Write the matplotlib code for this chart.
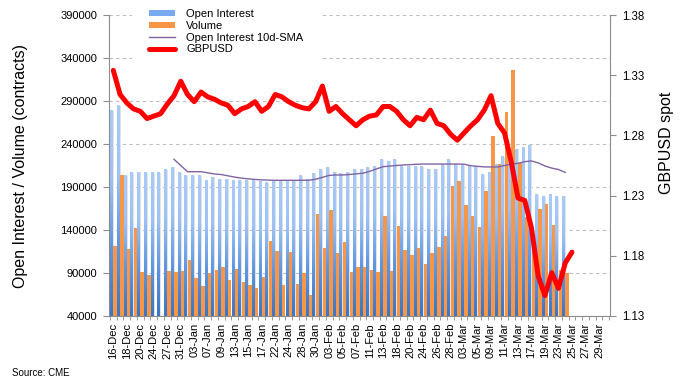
import numpy as np
import matplotlib
matplotlib.use("Agg")
import matplotlib.pyplot as plt
from matplotlib.colors import LinearSegmentedColormap
from matplotlib.patches import Patch
from matplotlib.lines import Line2D

plt.rcParams['font.family'] = ['Liberation Sans', 'DejaVu Sans']

# tick labels, one every second trading day
tick_labels = ['16-Dec', '18-Dec', '20-Dec', '24-Dec', '27-Dec', '31-Dec', '03-Jan', '07-Jan',
               '09-Jan', '13-Jan', '15-Jan', '17-Jan', '22-Jan', '24-Jan', '28-Jan', '30-Jan',
               '03-Feb', '05-Feb', '07-Feb', '11-Feb', '13-Feb', '18-Feb', '20-Feb', '24-Feb',
               '26-Feb', '28-Feb', '03-Mar', '05-Mar', '09-Mar', '11-Mar', '13-Mar', '17-Mar',
               '19-Mar', '23-Mar', '25-Mar', '27-Mar', '29-Mar']
n_slots = 74

open_interest = [278800, 284600, 202800, 206300, 207400, 206300, 206300, 206300, 209800, 212900,
                 206300, 202800, 202800, 202800, 197400, 201200, 199300, 199300, 198100, 198100,
                 197000, 197000, 196000, 195000, 196600, 196600, 196600, 196600, 202800, 198900,
                 205900, 209800, 212100, 207100, 205900, 207100, 209800, 210900, 212100, 213600,
                 221400, 220200, 221400, 213600, 214400, 213300, 213300, 210900, 210900, 215600,
                 221400, 216700, 214800, 213300, 213300, 204000, 206700, 216700, 225300, 227200,
                 233800, 235700, 238800, 180700, 178800, 180700, 178500, 179500]

volume = [121800, 204000, 117900, 142700, 91500, 87700, 0, 0, 92300, 91500,
          92300, 105100, 84600, 75300, 90400, 93500, 97400, 81900, 95000, 79900,
          76000, 72900, 85300, 127200, 116000, 76000, 114800, 77200, 89600, 64000,
          158600, 119100, 163300, 112900, 126000, 91200, 96600, 96600, 93500, 90800,
          156300, 92300, 144700, 116700, 110900, 119100, 100500, 113300, 120200, 133000,
          191500, 197000, 169100, 156300, 143900, 185300, 249700, 216700, 277600, 326000,
          217500, 155500, 130000, 164000, 170200, 145800, 93500, 90000]

# 10d SMA of open interest, first value on the 10th day
sma_first = 9
oi_sma = [222200, 215000, 207800, 207800, 207800, 206500, 205100, 204500, 203000, 201500,
          200300, 199500, 198800, 198300, 198000, 197800, 197800, 197800, 197800, 197800,
          197900, 199000, 201200, 203500, 204000, 204000, 204500, 205300, 206000, 208200,
          211000, 213600, 214300, 215000, 215600, 216000, 216500, 216700, 216700, 216700,
          216700, 216700, 216700, 216500, 214800, 214000, 213400, 213300, 213300, 215000,
          216700, 217500, 219500, 220300, 218000, 214400, 212000, 210300, 207000]

gbpusd = [1.334, 1.314, 1.307, 1.302, 1.300, 1.294, 1.296, 1.298, 1.306, 1.313,
          1.325, 1.314, 1.308, 1.316, 1.312, 1.310, 1.307, 1.305, 1.298, 1.302,
          1.304, 1.308, 1.300, 1.304, 1.314, 1.312, 1.308, 1.305, 1.303, 1.302,
          1.308, 1.321, 1.300, 1.304, 1.298, 1.293, 1.288, 1.293, 1.296, 1.297,
          1.304, 1.304, 1.300, 1.293, 1.288, 1.295, 1.293, 1.301, 1.290, 1.288,
          1.281, 1.276, 1.282, 1.288, 1.293, 1.301, 1.313, 1.290, 1.282, 1.258,
          1.228, 1.226, 1.203, 1.163, 1.147, 1.166, 1.153, 1.174, 1.183]

BLUE_LEGEND = '#79a9ee'
ORANGE = '#f79646'
PURPLE = '#8064a2'
RED = '#ff0000'
GREY = '#8c8c8c'

fig = plt.figure(figsize=(6.86, 3.85), dpi=100)
ax = fig.add_axes([109 / 686, 1 - 316 / 385, 501 / 686, 301 / 385])
ax.set_axisbelow(True)

x = np.arange(len(open_interest))
ymin, ymax = 40000, 390000

# shadow behind the open interest bars
ax.bar(x + 0.0, open_interest, width=0.22, color='#e2e2e2', zorder=1)

# open interest bars with a vertical gradient
blue_cmap = LinearSegmentedColormap.from_list('oi', ['#3a76c4', '#5f96e0', '#9cc2f6', '#a9cbf9'])
grad = np.linspace(0, 1, 128).reshape(-1, 1)
for xi, h in zip(x, open_interest):
    ax.imshow(grad, extent=(xi - 0.47, xi - 0.09, ymin, h), origin='lower',
              aspect='auto', cmap=blue_cmap, zorder=2, interpolation='bilinear')

ax.bar(x + 0.27, volume, width=0.5, color=ORANGE, zorder=3)

ax.plot(np.arange(sma_first, sma_first + len(oi_sma)), oi_sma, color=PURPLE, lw=1.0, zorder=4)

ax.set_xlim(-0.64, n_slots - 0.36)
ax.set_ylim(ymin, ymax)
ax.set_yticks(np.arange(40000, 390001, 50000))
ax.yaxis.grid(True, linestyle=(0, (3, 3)), color='#bdbdbd', lw=0.8)

ax.set_xticks(np.arange(0, 2 * len(tick_labels), 2))
ax.set_xticklabels(tick_labels, rotation=90, fontsize=8)
ax.set_xticks(np.arange(-0.5, n_slots, 1), minor=True)
ax.tick_params(axis='x', which='major', length=0, pad=5)
ax.tick_params(axis='x', which='minor', length=3, color=GREY)
ax.tick_params(axis='y', length=4, color=GREY, labelsize=8, pad=4.5)

for s in ['top', 'right']:
    ax.spines[s].set_visible(False)
for s in ['left', 'bottom']:
    ax.spines[s].set_color(GREY)

ax2 = ax.twinx()
ax2.plot(np.arange(len(gbpusd)), gbpusd, color=RED, lw=3.6, solid_capstyle='round',
         solid_joinstyle='round', zorder=5)
ax2.set_ylim(1.13, 1.38)
ax2.set_yticks(np.arange(1.13, 1.381, 0.05))
ax2.set_yticklabels([f'{v:.2f}' for v in np.arange(1.13, 1.381, 0.05)])
ax2.tick_params(axis='y', length=4, color=GREY, labelsize=8.3, pad=4.5)
for s in ['top', 'left', 'bottom']:
    ax2.spines[s].set_visible(False)
ax2.spines['right'].set_color(GREY)

fig.text(0.03, 0.57, 'Open Interest / Volume (contracts)', rotation=90, fontsize=11.5,
         ha='center', va='center')
fig.text(0.972, 0.63, 'GBPUSD spot', rotation=90, fontsize=11.5, ha='center', va='center')
fig.text(0.018, 0.032, 'Source: CME', fontsize=7, ha='left', va='center')

handles = [Patch(facecolor=BLUE_LEGEND, edgecolor='none'),
           Patch(facecolor=ORANGE, edgecolor='none'),
           Line2D([], [], color=PURPLE, lw=1.0),
           Line2D([], [], color=RED, lw=3.6, solid_capstyle='round')]
labels = ['Open Interest', 'Volume', 'Open Interest 10d-SMA', 'GBPUSD']
leg = ax2.legend(handles, labels, loc='upper left', bbox_to_anchor=(132 / 686, 1.019),
                 bbox_transform=fig.transFigure, fontsize=8, frameon=True, fancybox=False,
                 edgecolor='none', facecolor='white', framealpha=1, borderpad=1.5,
                 labelspacing=0.15, handlelength=2.4, handleheight=0.45, handletextpad=1.0,
                 borderaxespad=0)
leg.set_zorder(10)

fig.savefig('out.png', dpi=100)
